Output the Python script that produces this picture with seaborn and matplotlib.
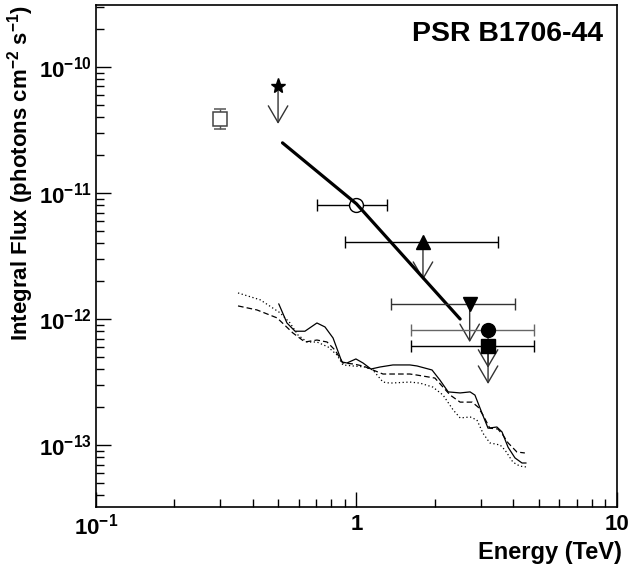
import numpy as np
import pandas as pd
import seaborn as sns
import matplotlib
matplotlib.use("Agg")
import matplotlib.pyplot as plt

# Sensitivity curves (energy in TeV, integral flux in photons cm^-2 s^-1)
solid_e = [0.503, 0.541, 0.581, 0.634, 0.705, 0.757, 0.813, 0.879, 0.92, 0.995,
           1.059, 1.137, 1.231, 1.38, 1.604, 1.708, 1.95, 2.09, 2.25, 2.5,
           2.73, 2.85, 3.03, 3.2, 3.46, 3.62, 3.82, 4.06, 4.32, 4.48]
solid_f = [1.32e-12, 9.3e-13, 8.0e-13, 8.0e-13, 9.3e-13, 8.65e-13, 7.07e-13, 4.56e-13, 4.48e-13, 4.82e-13,
           4.48e-13, 4.01e-13, 4.16e-13, 4.32e-13, 4.32e-13, 4.24e-13, 3.94e-13, 3.28e-13, 2.64e-13, 2.59e-13,
           2.64e-13, 2.49e-13, 1.8e-13, 1.36e-13, 1.39e-13, 1.27e-13, 9.6e-14, 7.9e-14, 7.2e-14, 7.2e-14]

dashed_e = [0.351, 0.415, 0.496, 0.57, 0.634, 0.705, 0.771, 0.827, 0.887, 0.97,
            1.059, 1.156, 1.264, 1.604, 1.708, 2.0, 2.15, 2.29, 2.5, 2.78,
            2.93, 3.06, 3.25, 3.49, 3.65, 3.82, 4.13, 4.43]
dashed_f = [1.27e-12, 1.18e-12, 1.02e-12, 7.75e-13, 6.57e-13, 6.81e-13, 6.57e-13, 5.67e-13, 4.48e-13, 4.4e-13,
            4.24e-13, 3.94e-13, 3.66e-13, 3.66e-13, 3.59e-13, 3.4e-13, 2.88e-13, 2.49e-13, 2.19e-13, 2.19e-13,
            2.0e-13, 1.73e-13, 1.36e-13, 1.34e-13, 1.2e-13, 1.04e-13, 8.8e-14, 8.65e-14]

dotted_e = [0.351, 0.427, 0.509, 0.556, 0.596, 0.646, 0.705, 0.778, 0.842, 0.887,
            0.97, 1.078, 1.156, 1.264, 1.344, 1.604, 1.753, 1.966, 2.15, 2.35,
            2.5, 2.73, 2.9, 3.06, 3.25, 3.56, 3.72, 3.99, 4.24, 4.48]
dotted_f = [1.61e-12, 1.42e-12, 1.12e-12, 9.3e-13, 7.47e-13, 6.57e-13, 6.57e-13, 6.0e-13, 5.18e-13, 4.32e-13,
            4.24e-13, 4.16e-13, 3.94e-13, 3.16e-13, 3.1e-13, 3.16e-13, 3.1e-13, 2.88e-13, 2.49e-13, 1.9e-13,
            1.64e-13, 1.67e-13, 1.58e-13, 1.24e-13, 1.04e-13, 1.0e-13, 9.1e-14, 7.3e-14, 6.8e-14, 6.7e-14]

# Spectrum fit line
fit_e = [0.52, 1.0, 2.5]
fit_f = [2.5e-11, 8.2e-12, 1.0e-12]

# Measurements / upper limits: energy, flux, energy range
sq_open = dict(e=0.3, f=3.86e-11, f_lo=3.2e-11, f_hi=4.65e-11)
star_ul = dict(e=0.5, f=7.07e-11)
circ_open = dict(e=1.0, f=8.0e-12, e_lo=0.705, e_hi=1.31)
tri_up_ul = dict(e=1.8, f=4.08e-12, e_lo=0.9, e_hi=3.49)
tri_dn_ul = dict(e=2.72, f=1.31e-12, e_lo=1.36, e_hi=4.06)
circ_ul = dict(e=3.2, f=8.2e-13, e_lo=1.62, e_hi=4.8)
sq_ul = dict(e=3.2, f=6.1e-13, e_lo=1.62, e_hi=4.8)

sns.set_theme(style="ticks")
plt.rcParams["font.family"] = ["Liberation Sans", "DejaVu Sans"]
plt.rcParams["font.weight"] = "bold"
plt.rcParams["mathtext.fontset"] = "custom"
plt.rcParams["mathtext.rm"] = "Liberation Sans:bold"
plt.rcParams["mathtext.bf"] = "Liberation Sans:bold"
plt.rcParams["mathtext.it"] = "Liberation Sans:bold"
plt.rcParams["mathtext.sf"] = "Liberation Sans:bold"
for key in ["text.color", "axes.labelcolor", "xtick.color", "ytick.color", "axes.edgecolor"]:
    plt.rcParams[key] = "black"

fig = plt.figure(figsize=(6.42, 5.66), dpi=100)
ax = fig.add_axes([0.1495, 0.1042, 0.8115, 0.887])

# sensitivity curves
curves = pd.concat([
    pd.DataFrame({"E": solid_e, "F": solid_f, "curve": "solid"}),
    pd.DataFrame({"E": dashed_e, "F": dashed_f, "curve": "dashed"}),
    pd.DataFrame({"E": dotted_e, "F": dotted_f, "curve": "dotted"}),
])
styles = {"solid": "-", "dashed": (0, (4.5, 2.5)), "dotted": (0, (1, 2))}
for name, grp in curves.groupby("curve", sort=False):
    sns.lineplot(data=grp, x="E", y="F", sort=False, estimator=None, ax=ax,
                 color="black", linewidth=0.9, linestyle=styles[name], legend=False)

# fit line
sns.lineplot(x=fit_e, y=fit_f, sort=False, estimator=None, ax=ax,
             color="black", linewidth=2.3, zorder=4)


def upper_arrow(d, color="black"):
    ax.annotate("", xy=(d["e"], d["f"] * 0.5), xytext=(d["e"], d["f"]),
                arrowprops=dict(arrowstyle="->,head_length=1.2,head_width=0.7",
                                color=color, lw=1, shrinkA=0, shrinkB=0,
                                mutation_scale=10), zorder=3)


def xerr(d):
    return [[d["e"] - d["e_lo"]], [d["e_hi"] - d["e"]]]


# open square with vertical error
ax.errorbar(sq_open["e"], sq_open["f"],
            yerr=[[sq_open["f"] - sq_open["f_lo"]], [sq_open["f_hi"] - sq_open["f"]]],
            fmt="s", ms=10, mfc="white", mec="#444444", mew=1.1,
            ecolor="#555555", elinewidth=1, capsize=4, zorder=3)

# star upper limit
upper_arrow(star_ul, "#333333")
ax.plot(star_ul["e"], star_ul["f"], marker="*", ms=11, color="black", zorder=5)

# open circle
ax.errorbar(circ_open["e"], circ_open["f"], xerr=xerr(circ_open), fmt="o", ms=10,
            mfc="white", mec="black", mew=1, ecolor="black", elinewidth=1,
            capsize=4, zorder=3)

# filled upper limits
for d, m, col in [(tri_up_ul, "^", "black"), (tri_dn_ul, "v", "#333333"),
                  (circ_ul, "o", "#666666"), (sq_ul, "s", "black")]:
    upper_arrow(d, "#333333")
    ax.errorbar(d["e"], d["f"], xerr=xerr(d), fmt=m, ms=10, mfc="black",
                mec="black", ecolor=col, elinewidth=1, capsize=4, zorder=5)

ax.set_xscale("log")
ax.set_yscale("log")
ax.set_xlim(0.1, 10)
ax.set_ylim(10 ** -13.492, 10 ** -9.508)

ax.set_xticks([0.1, 1, 10], [r"$10^{-1}$", "1", "10"])
ax.set_yticks([1e-13, 1e-12, 1e-11, 1e-10],
              [r"$10^{-13}$", r"$10^{-12}$", r"$10^{-11}$", r"$10^{-10}$"])
ax.tick_params(which="both", direction="in", top=False, right=False, width=1,
               labelsize=16, color="black")
ax.tick_params(which="major", length=11)
ax.tick_params(which="minor", length=5.5)
ax.tick_params(axis="x", which="major", pad=5)
ax.tick_params(axis="y", which="major", pad=3)
for sp in ax.spines.values():
    sp.set_linewidth(1.2)
    sp.set_color("black")

ax.set_xlabel("Energy (TeV)", fontsize=17, fontweight="bold", ha="right")
ax.xaxis.set_label_coords(1.009, -0.068)
ax.set_ylabel(r"Integral Flux (photons cm$^{-2}$ s$^{-1}$)", loc="top",
              fontsize=16, fontweight="bold", labelpad=2)

ax.text(0.973, 0.968, "PSR B1706-44", transform=ax.transAxes, ha="right", va="top",
        fontsize=20.5, fontweight="bold")

fig.savefig("out.png", dpi=100)
